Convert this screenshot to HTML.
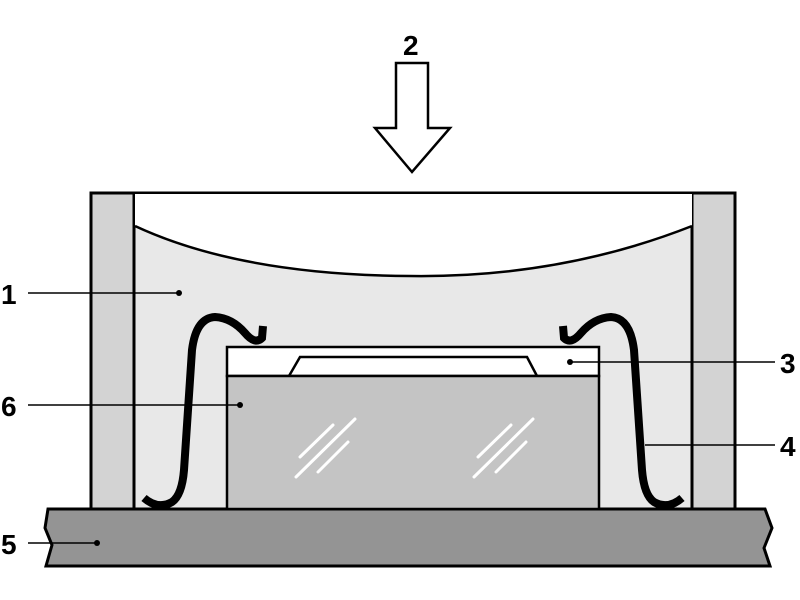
<!DOCTYPE html>
<html><head><style>body{margin:0;background:#fff}svg{display:block}</style></head><body>
<svg width="800" height="600" viewBox="0 0 800 600" xmlns="http://www.w3.org/2000/svg">
<rect width="800" height="600" fill="#fff"/>
<rect x="91" y="193" width="644" height="316" fill="#e8e8e8" stroke="#000" stroke-width="3"/>
<rect x="91" y="193" width="43" height="316" fill="#d3d3d3" stroke="#000" stroke-width="3"/>
<rect x="692" y="193" width="43" height="316" fill="#d3d3d3" stroke="#000" stroke-width="3"/>
<path d="M135,194 L692,194 L692,226 Q560,278 410,276 Q240,275 135,226 Z" fill="#fff" stroke="none"/>
<path d="M135,226 Q240,275 410,276 Q560,278 692,226" fill="none" stroke="#000" stroke-width="2.5"/>
<path d="M48,509 L765,509 L772,528 L764,548 L770,566 L46,566 L52,545 L45,528 Z" fill="#949494" stroke="#000" stroke-width="3"/>
<rect x="227" y="347" width="372" height="29" fill="#fff" stroke="#000" stroke-width="2.5"/>
<path d="M289,376 L300,357 L527,357 L537,376" fill="none" stroke="#000" stroke-width="2.5"/>
<rect x="227" y="376" width="372" height="133" fill="#c4c4c4" stroke="#000" stroke-width="2.5"/>
<g stroke="#fff" stroke-width="3" stroke-linecap="round">
<line x1="300" y1="457" x2="333" y2="425"/><line x1="296" y1="477" x2="355" y2="419"/><line x1="318" y1="472" x2="348" y2="442"/>
<line x1="478" y1="457" x2="511" y2="425"/><line x1="474" y1="477" x2="533" y2="419"/><line x1="496" y1="472" x2="526" y2="442"/>
</g>
<g fill="none" stroke="#000" stroke-width="8" stroke-linecap="butt">
<path d="M144,498 Q158,510 172,502 Q182,495 184,470 L192,350 Q196,318 215,317 Q232,318 245,333 Q255,345 262,338 L263,326"/>
<path d="M682,498 Q668,510 654,502 Q644,495 642,470 L634,350 Q630,318 611,317 Q594,318 581,333 Q571,345 564,338 L563,326"/>
</g>
<path d="M396,63 L428,63 L428,128 L450,128 L412,172 L375,128 L396,128 Z" fill="#fff" stroke="#000" stroke-width="2.5"/>
<g stroke="#000" stroke-width="1.5">
<line x1="28" y1="293" x2="179" y2="293"/><line x1="28" y1="405" x2="240" y2="405"/>
<line x1="28" y1="543" x2="97" y2="543"/><line x1="570" y1="362" x2="775" y2="362"/>
<line x1="645" y1="445" x2="775" y2="445"/>
</g>
<g fill="#000"><circle cx="179" cy="293" r="3"/><circle cx="240" cy="405" r="3"/><circle cx="97" cy="543" r="3"/><circle cx="570" cy="362" r="3"/></g>
<g font-family="Liberation Sans, sans-serif" font-weight="bold" font-size="28" fill="#000">
<text x="1" y="304">1</text><text x="1" y="416">6</text><text x="1" y="554">5</text>
<text x="780" y="373">3</text><text x="780" y="456">4</text><text x="403" y="55">2</text>
</g>
</svg>
</body></html>
